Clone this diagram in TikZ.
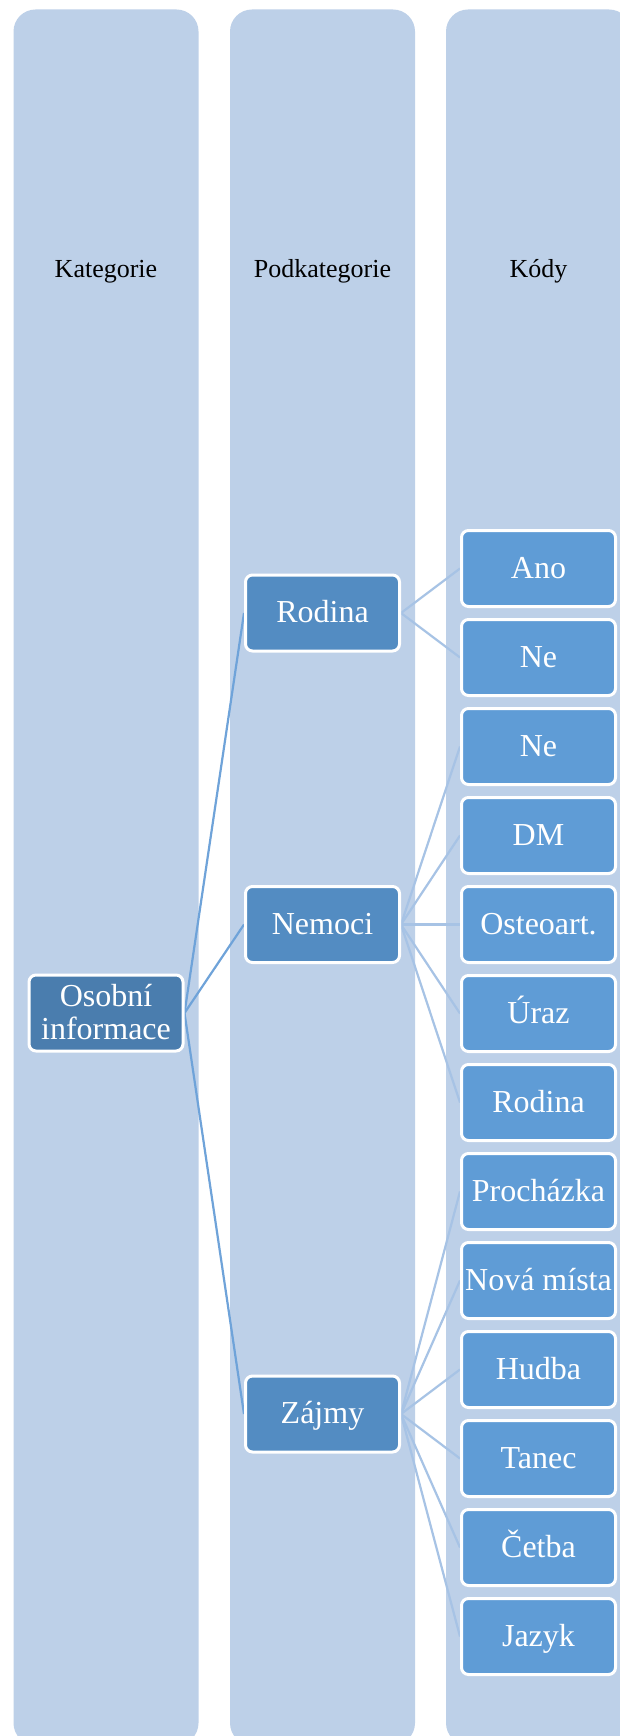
\documentclass[tikz,border=0pt]{standalone}
\usepackage{fontspec}
\setmainfont{Liberation Serif}
\definecolor{colbg}{HTML}{BDD0E8}
\definecolor{topfill}{HTML}{4A7DAE}
\definecolor{midfill}{HTML}{538CC2}
\definecolor{leaffill}{HTML}{5F9CD6}
\definecolor{trunkline}{HTML}{6FA3D9}
\definecolor{branchline}{HTML}{A7C3E5}
\pgfdeclarelayer{back}
\pgfdeclarelayer{links}
\pgfsetlayers{back,links,main}
\tikzset{
  column/.style={fill=colbg, rounded corners=22pt},
  header/.style={font=\fontsize{26}{28}\selectfont, text=black, anchor=base},
  box/.style={draw=white, line width=3pt, rounded corners=7pt,
    minimum width=154pt, minimum height=76pt, inner sep=0pt,
    text=white, font=\fontsize{32}{33}\selectfont, align=center,
    text height=25pt, text depth=6pt},
  topbox/.style={box, fill=topfill, text height=58pt},
  midbox/.style={box, fill=midfill},
  leafbox/.style={box, fill=leaffill},
  trunk/.style={draw=trunkline, line width=2.2pt},
  branch/.style={draw=branchline, line width=2.2pt},
}
\begin{document}
\begin{tikzpicture}[x=1pt, y=-1pt]
  \clip (0,0) rectangle (620,1736);

  % three background columns
  \begin{pgfonlayer}{back}
    \fill[white] (0,0) rectangle (620,1736);
    \fill[column] (13.5,9.5) rectangle (198.5,1745);
    \fill[column] (230,9.5) rectangle (415,1745);
    \fill[column] (446,9.5) rectangle (631,1745);
  \end{pgfonlayer}

  % column headings
  \node[header] (h1) at (106,277) {Kategorie};
  \node[header] (h2) at (322.5,277) {Podkategorie};
  \node[header] (h3) at (538.5,277) {Kódy};

  % category
  \node[topbox] (osobni) at (106,1013) {Osobní\\informace};

  % subcategories
  \node[midbox] (rodina) at (322.5,613) {Rodina};
  \node[midbox] (nemoci) at (322.5,924.5) {Nemoci};
  \node[midbox] (zajmy)  at (322.5,1414) {Zájmy};

  % codes
  \foreach \i/\t in {0/Ano,1/Ne,2/Ne,3/DM,4/Osteoart.,5/Úraz,6/Rodina,
                     7/Procházka,8/Nová místa,9/Hudba,10/Tanec,11/Četba,12/Jazyk}{
    \node[leafbox] (c\i) at (538.5,{568.5+89*\i}) {\t};
  }

  % connectors
  \begin{pgfonlayer}{links}
    \foreach \s in {rodina,nemoci,zajmy}{
      \draw[trunk] (osobni.east) -- (\s.west);
    }
    \foreach \i in {0,1}{
      \draw[branch] (rodina.east) -- (c\i.west);
    }
    \foreach \i in {2,...,6}{
      \draw[branch] (nemoci.east) -- (c\i.west);
    }
    \foreach \i in {7,...,12}{
      \draw[branch] (zajmy.east) -- (c\i.west);
    }
  \end{pgfonlayer}
\end{tikzpicture}
\end{document}
